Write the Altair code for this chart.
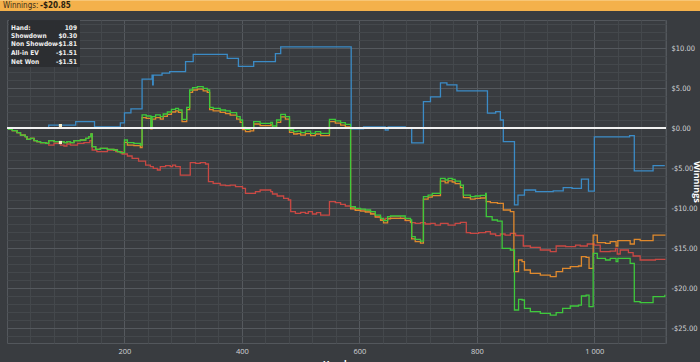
import altair as alt
import pandas as pd

# ---------------- data ----------------
showdown = [(0, 0), (71, 0.35), (117, 0.8), (149, 0.15), (193, 0.65), (200, 1.9), (211, 2.4),
            (230, 6.1), (247, 6.6), (248, 5.4), (249, 6.6), (264, 6.85), (277, 7.05), (304, 8.3),
            (317, 9.2), (375, 8.7), (394, 7.7), (420, 8.3), (457, 9.3), (466, 10.15), (586, -0.1),
            (607, 0.15), (644, -0.25), (649, 0.15), (678, 0.05), (689, -1.85), (709, 3.3), (721, 3.9),
            (738, 5.65), (749, 5.4), (766, 4.65), (818, 1.85), (832, 2.05), (840, 1.0), (845, -1.7),
            (864, -9.6), (870, -8.4), (881, -7.75), (900, -7.95), (930, -7.85), (947, -7.45),
            (962, -7.55), (978, -6.4), (990, -7.9), (1000, -1.1), (1060, -0.95), (1068, -5.35),
            (1100, -4.7), (1120, -4.7)]

net_won = [(0, 0), (3, -0.16), (9, -0.34), (17, -0.59), (23, -0.88), (31, -1.09), (34, -1.41),
           (40, -1.29), (46, -1.59), (51, -1.71), (57, -1.84), (66, -1.91), (71, -1.59), (80, -1.71),
           (91, -1.71), (97, -1.84), (102, -1.71), (108, -1.84), (114, -1.59), (125, -1.5),
           (134, -1.29), (139, -1.09), (143, -0.75), (145, -2.34), (151, -2.66), (159, -2.54),
           (171, -2.66), (182, -2.75), (188, -2.96), (193, -3.09), (200, -1.5), (205, -1.84),
           (216, -1.91), (227, -2.13), (230, 1.63), (237, 1.5), (245, 0.16), (247, 1.41), (253, 1.63),
           (261, 1.41), (266, 1.75), (273, 2.0), (280, 2.34), (287, 2.46), (292, 2.25), (298, 1.09),
           (306, 2.59), (311, 4.75), (316, 5.04), (324, 5.16), (334, 4.96), (341, 4.75), (345, 2.59),
           (351, 2.46), (363, 2.25), (372, 2.13), (380, 1.91), (391, 1.41), (397, 1.0), (401, 0.09),
           (406, -0.16), (414, -0.04), (420, 0.79), (431, 0.59), (449, 0.71), (452, 0.25), (459, 1.0),
           (466, 1.71), (474, 1.41), (481, -0.25), (488, -0.46), (494, -0.38), (500, -0.59),
           (508, -0.38), (517, -0.66), (525, -0.46), (534, -0.66), (549, 1.09), (559, 0.88),
           (568, 0.66), (576, 0.46), (585, -9.84), (593, -10.04), (602, -10.13), (610, -10.25),
           (619, -10.46), (627, -10.88), (636, -11.29), (641, -11.59), (648, -11.09), (653, -11.0),
           (678, -11.29), (687, -11.5), (689, -13.59), (695, -13.91), (704, -14.13), (709, -8.59),
           (717, -8.38), (724, -8.16), (738, -6.29), (746, -6.5), (751, -6.29), (758, -6.41),
           (763, -6.63), (772, -7.13), (777, -8.38), (789, -8.59), (797, -8.5), (806, -8.41),
           (815, -8.16), (816, -11.09), (826, -11.5), (835, -11.63), (843, -15.04), (857, -15.25),
           (864, -22.75), (871, -21.41), (877, -21.5), (881, -22.54), (891, -22.96), (908, -23.16),
           (925, -23.38), (935, -23.09), (946, -22.54), (959, -22.25), (973, -22.13), (978, -21.0),
           (986, -20.88), (991, -22.34), (998, -15.66), (1005, -16.29), (1019, -16.5), (1027, -16.29),
           (1037, -16.71), (1040, -16.29), (1061, -16.91), (1068, -21.71), (1078, -21.84),
           (1100, -21.09), (1120, -20.85)]

all_in_ev = [(0, 0), (3, -0.16), (9, -0.34), (17, -0.59), (23, -0.88), (31, -1.09), (34, -1.41),
             (40, -1.29), (46, -1.59), (51, -1.71), (57, -1.84), (66, -1.91), (71, -1.59), (80, -1.71),
             (91, -1.71), (97, -1.84), (102, -1.71), (108, -1.84), (114, -1.59), (125, -1.5),
             (134, -1.29), (139, -1.09), (143, -0.75), (145, -2.34), (151, -2.66), (159, -2.54),
             (171, -2.66), (182, -2.75), (188, -2.96), (193, -3.09), (200, -1.8), (205, -2.15),
             (216, -2.2), (227, -2.45), (230, 1.3), (237, 1.2), (245, -0.1), (247, 1.1), (253, 1.3),
             (261, 1.1), (266, 1.45), (273, 1.7), (280, 2.0), (287, 2.15), (292, 1.95), (298, 0.8),
             (306, 2.3), (311, 4.45), (316, 4.75), (324, 4.85), (334, 4.65), (341, 4.45), (345, 2.3),
             (351, 2.15), (363, 1.95), (372, 1.8), (380, 1.6), (391, 1.1), (397, 0.7), (401, -0.2),
             (406, -0.45), (414, -0.35), (420, 0.5), (431, 0.3), (449, 0.4), (452, -0.05), (459, 0.7),
             (466, 1.4), (474, 1.1), (481, -0.55), (488, -0.75), (494, -0.7), (500, -0.9),
             (508, -0.7), (517, -0.95), (525, -0.75), (534, -0.95), (549, 0.8), (559, 0.6),
             (568, 0.35), (576, 0.15), (585, -10.1), (593, -10.3), (602, -10.4), (610, -10.5),
             (619, -10.75), (627, -11.15), (636, -11.55), (641, -11.85), (648, -11.35), (653, -11.3),
             (678, -11.55), (687, -11.8), (689, -13.85), (695, -14.2), (704, -14.4), (709, -8.9),
             (717, -8.65), (724, -8.45), (738, -6.65), (746, -6.85), (751, -6.6), (758, -6.75),
             (763, -6.95), (772, -7.45), (777, -8.7), (789, -8.9), (797, -8.8), (806, -8.75),
             (815, -8.5), (816, -9.21), (823, -9.34), (835, -9.41), (845, -10.25), (857, -10.46),
             (863, -17.96), (871, -16.5), (877, -16.71), (881, -17.75), (891, -18.16), (908, -18.38),
             (925, -18.59), (935, -17.96), (946, -17.54), (959, -17.34), (973, -17.25), (978, -16.09),
             (986, -16.16), (991, -17.54), (998, -13.38), (1005, -14.34), (1019, -14.41),
             (1027, -14.21), (1037, -14.75), (1040, -14.09), (1061, -14.5), (1068, -13.91),
             (1078, -14.09), (1100, -13.38), (1120, -13.3)]

non_showdown = [(0, 0), (3, -0.16), (9, -0.34), (17, -0.59), (23, -0.88), (31, -1.09), (34, -1.41),
                (40, -1.29), (46, -1.59), (51, -1.71), (57, -1.84), (66, -1.91), (71, -2.13),
                (80, -1.91), (91, -2.13), (97, -2.25), (102, -2.0), (108, -2.13), (120, -1.91),
                (131, -1.84), (141, -1.59), (145, -2.75), (153, -2.96), (171, -2.75), (185, -2.96),
                (196, -3.25), (205, -3.5), (213, -3.79), (224, -4.13), (236, -4.63), (244, -4.84),
                (249, -5.04), (256, -5.25), (261, -4.84), (270, -4.71), (278, -4.84), (282, -4.63),
                (287, -4.84), (295, -5.88), (312, -4.34), (321, -4.41), (329, -4.34), (338, -4.5),
                (343, -6.71), (351, -6.91), (363, -7.13), (372, -7.21), (380, -7.13), (389, -7.34),
                (401, -7.54), (406, -8.16), (423, -7.96), (431, -7.75), (449, -7.96), (452, -8.25),
                (460, -8.5), (471, -8.79), (479, -9.0), (483, -10.46), (491, -10.66), (500, -10.54),
                (508, -10.66), (513, -10.46), (520, -10.75), (527, -10.59), (534, -10.88),
                (549, -9.21), (559, -9.34), (568, -9.54), (576, -9.75), (585, -9.91), (593, -10.25),
                (610, -10.38), (619, -10.66), (627, -11.09), (636, -11.41), (644, -11.29),
                (653, -11.09), (670, -11.29), (678, -11.59), (687, -11.84), (695, -11.91),
                (704, -11.84), (712, -12.0), (721, -11.91), (729, -12.13), (738, -11.91),
                (751, -12.13), (763, -11.91), (772, -11.79), (782, -13.09), (789, -13.16),
                (803, -13.09), (815, -12.96), (823, -13.25), (832, -13.46), (840, -13.25),
                (848, -13.38), (857, -13.16), (866, -13.44), (879, -14.75), (891, -14.91),
                (908, -15.25), (925, -15.46), (935, -14.75), (951, -14.84), (968, -14.63),
                (976, -14.75), (988, -14.5), (1000, -14.63), (1010, -15.46), (1027, -15.38),
                (1036, -15.04), (1039, -15.75), (1044, -15.25), (1058, -15.59), (1066, -16.0),
                (1078, -16.5), (1104, -16.41), (1120, -16.35)]

hover_hand = 91
hover_points = [0.30, -1.81]
tooltip_labels = ["Hand:", "Showdown", "Non Showdow", "All-in EV", "Net Won"]
tooltip_values = ["109", "$0.30", "-$1.81", "-$1.51", "-$1.51"]
header_label = "Winnings:"
header_value = "-$20.85"

x_grid_values = list(range(40, 1121, 40))
y_grid_values = list(range(-26, 14))

# ---------------- styling ----------------
BG = "#393c40"
FONT = "Open Sans"
NARROW = "'Liberation Sans Narrow', 'DejaVu Sans Condensed', 'Roboto Condensed', sans-serif"
W, H = 659, 323
PAD = {"left": 7, "top": 20, "right": 34, "bottom": 19}

x_enc = alt.X(
    "hand:Q",
    scale=alt.Scale(domain=[0, 1122], nice=False, zero=False),
    axis=alt.Axis(
        values=x_grid_values,
        labelExpr="datum.value % 200 === 0 ? replace(format(datum.value, ','), ',', ' ') : ''",
        grid=True,
        gridColor={"condition": {"test": "datum.value % 200 === 0", "value": "#55595e"},
                   "value": "#44484c"},
        gridWidth=1,
        ticks=False,
        domain=False,
        labelOverlap=False,
        labelFlush=False,
        labelColor="#d2d4d7",
        labelFontSize=7.5,
        labelFont=FONT,
        labelPadding=4,
        title="Hands",
        titleColor="#ffffff",
        titleFont=FONT,
        titleFontSize=9,
        titleFontWeight="bold",
        titleY=16,
        titleBaseline="top",
    ),
)

y_enc = alt.Y(
    "value:Q",
    scale=alt.Scale(domain=[-26.875, 13.5], nice=False, zero=False),
    axis=alt.Axis(
        orient="right",
        values=y_grid_values,
        labelExpr="datum.value % 5 === 0 ? (datum.value < 0 ? '-$' : '$') + format(abs(datum.value), '.2f') : ''",
        grid=True,
        gridColor={"condition": {"test": "datum.value % 5 === 0", "value": "#55595e"},
                   "value": "#44484c"},
        gridWidth=1,
        ticks=False,
        domain=False,
        labelOverlap=False,
        labelFlush=False,
        labelColor="#d2d4d7",
        labelFontSize=7.5,
        labelFont=NARROW,
        labelPadding=5,
        title="Winnings",
        titleColor="#ffffff",
        titleFont=FONT,
        titleFontSize=9,
        titleFontWeight="bold",
        titleAngle=90,
        titleX=30,
        titleY=H / 2,
        titleAlign="center",
        titleBaseline="middle",
    ),
)


def series_df(pairs):
    return pd.DataFrame(pairs, columns=["hand", "value"])


def line_layer(pairs, color):
    return alt.Chart(series_df(pairs)).mark_line(
        interpolate="step-after", strokeWidth=1.3, color=color
    ).encode(x=x_enc, y=y_enc)


layers = [
    line_layer(showdown, "#3b8bc6"),
    line_layer(non_showdown, "#c94843"),
    line_layer(all_in_ev, "#e0892c"),
    line_layer(net_won, "#3ec93b"),
]

zero = alt.Chart(pd.DataFrame({"value": [0]})).mark_rule(color="#f2f2f2", strokeWidth=2).encode(y=y_enc)

markers = alt.Chart(pd.DataFrame({"hand": [hover_hand] * len(hover_points), "value": hover_points})).mark_square(
    size=10, color="#f4ecc8", opacity=1
).encode(x=x_enc, y=y_enc)

one = pd.DataFrame({"k": [0]})

# header bar (orange strip above the plot)
header = alt.Chart(one).mark_rect(color="#f4b14b").encode(
    x=alt.value(-PAD["left"]), x2=alt.value(W + PAD["right"]), y=alt.value(-20), y2=alt.value(-9)
)
header_top = alt.Chart(one).mark_rect(color="#f7c676").encode(
    x=alt.value(-PAD["left"]), x2=alt.value(W + PAD["right"]), y=alt.value(-20), y2=alt.value(-19)
)
header_t1 = alt.Chart(one).mark_text(align="left", baseline="middle", fontSize=8, font=NARROW,
                                     color="#3a2d18").encode(
    x=alt.value(-4), y=alt.value(-14), text=alt.value(header_label)
)
header_t2 = alt.Chart(one).mark_text(align="left", baseline="middle", fontSize=8, font=NARROW,
                                     fontWeight="bold", color="#2a1f10").encode(
    x=alt.value(33), y=alt.value(-14), text=alt.value(header_value)
)

# info box in upper-left corner
box = alt.Chart(one).mark_rect(color="#2b2d30", opacity=0.95).encode(
    x=alt.value(2), x2=alt.value(73), y=alt.value(0), y2=alt.value(47)
)
box_layers = [box]
row_y = [7.5, 15.5, 24, 33, 41.5]
for i, (lab, val) in enumerate(zip(tooltip_labels, tooltip_values)):
    box_layers.append(alt.Chart(one).mark_text(align="left", baseline="middle", fontSize=6.5, font=NARROW,
                                               fontWeight="bold", color="#f0f0f0").encode(
        x=alt.value(4), y=alt.value(row_y[i]), text=alt.value(lab)))
    box_layers.append(alt.Chart(one).mark_text(align="right", baseline="middle", fontSize=6.5, font=NARROW,
                                               fontWeight="bold", color="#f0f0f0").encode(
        x=alt.value(70), y=alt.value(row_y[i]), text=alt.value(val)))

chart = alt.layer(
    *layers, zero, markers, header, header_top, header_t1, header_t2, *box_layers
).properties(
    width=W,
    height=H,
    padding=PAD,
    autosize=alt.AutoSizeParams(type="none"),
    background=BG,
).configure_view(
    stroke="#53575c", strokeWidth=1, fill=BG
)

chart.save("out.html", embed_options={"renderer": "svg", "actions": False})
